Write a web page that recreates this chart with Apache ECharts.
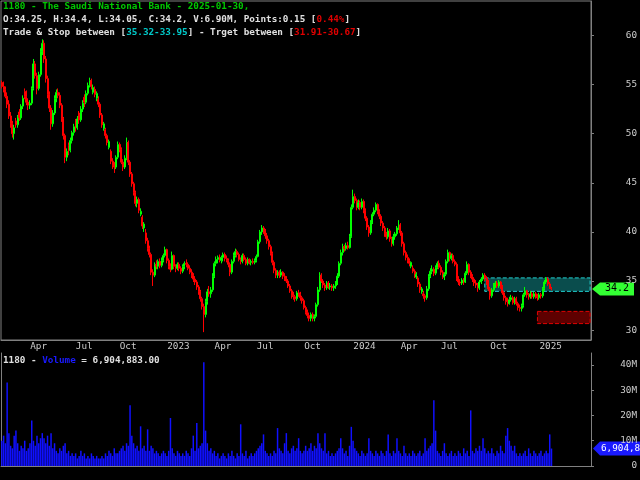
<!DOCTYPE html>
<html>
<head>
<meta charset="utf-8">
<title>1180 - The Saudi National Bank</title>
<script src="https://cdn.jsdelivr.net/npm/echarts@6/dist/echarts.min.js"></script>
<style>
html, body { margin: 0; padding: 0; background: #000; }
#main { width: 640px; height: 480px; }
</style>
</head>
<body>
<div id="main"></div>
<script>
// months on the axis, one group of candles per month
var months = ['2022-02','2022-03','2022-04','2022-05','2022-06','2022-07','2022-08','2022-09','2022-10','2022-11','2022-12',
    '2023-01','2023-02','2023-03','2023-04','2023-05','2023-06','2023-07','2023-08','2023-09','2023-10','2023-11','2023-12',
    '2024-01','2024-02','2024-03','2024-04','2024-05','2024-06','2024-07','2024-08','2024-09','2024-10','2024-11','2024-12',
    '2025-01'];
// empty room on the right of the last candle
var futureMonths = ['2025-02', '2025-03'];
var futureCounts = [11, 11];

// [open, high, low, close]
var candles = [
    [[55.2,55.4,54.6,54.8],[54.8,55.3,54.2,54.5],[54.5,54.8,53.6,53.8],[53.8,54.2,52.6,53.0],[53.0,53.4,51.5,51.8],[51.8,52.2,50.6,51.0]],
    [[51.0,51.3,49.6,50.0],[50.0,50.9,49.4,50.6],[51.3,51.6,50.6,50.9],[50.9,51.9,50.6,51.7],[52.2,52.5,51.3,51.6],[51.6,53.0,51.4,52.8],[52.8,53.9,52.5,53.6],[54.3,54.6,53.5,53.8],[53.8,54.4,52.9,53.2]],
    [[53.2,53.6,52.4,52.9],[52.9,53.4,52.5,53.1],[53.1,54.8,52.9,54.6],[54.6,57.6,54.4,57.1],[57.1,57.4,55.6,55.9],[55.9,56.2,54.0,54.6],[54.6,56.3,54.4,56.0],[56.0,58.7,55.8,58.4],[58.4,59.6,58.0,59.2]],
    [[59.2,59.5,57.2,57.6],[57.6,57.9,55.2,55.6],[55.6,55.9,53.6,54.0],[54.0,54.3,52.2,52.6],[52.6,52.9,50.4,51.0],[51.0,52.4,50.7,52.1],[52.1,53.9,51.9,53.6],[53.6,54.5,53.2,54.2]],
    [[54.2,54.6,53.6,53.9],[53.9,54.2,52.6,52.9],[52.9,53.1,51.2,51.5],[51.5,51.7,49.4,49.8],[49.8,50.0,47.0,47.6],[47.6,48.5,47.2,48.2],[48.8,49.1,47.8,48.3],[48.3,49.6,48.1,49.3],[49.3,50.3,49.0,50.1]],
    [[50.1,51.0,49.8,50.7],[51.3,51.5,50.2,50.6],[50.6,51.8,50.4,51.5],[52.1,52.3,51.0,51.4],[51.4,52.8,51.2,52.5],[52.5,53.4,52.2,53.1],[53.7,54.0,52.7,53.2]],
    [[53.2,54.4,53.0,54.1],[54.1,55.2,53.9,54.9],[54.9,55.7,54.7,55.4],[55.4,55.6,54.5,54.8],[54.2,55.0,54.0,54.7],[54.5,54.8,53.7,54.0],[53.6,54.3,53.3,54.1],[53.5,53.8,52.7,53.0],[53.0,53.2,51.6,51.9]],
    [[51.9,52.1,50.6,50.9],[50.5,51.2,50.3,51.0],[50.4,50.6,49.5,49.8],[49.8,50.0,48.8,49.1],[48.6,49.4,48.4,49.2],[48.2,48.4,46.9,47.2],[47.2,47.5,46.4,46.8],[46.8,47.1,46.0,46.6],[46.6,47.8,46.4,47.6]],
    [[47.6,49.2,47.4,48.9],[48.9,49.1,48.1,48.4],[48.4,48.6,46.9,47.1],[47.1,47.4,46.2,46.6],[46.6,47.8,46.4,47.5],[47.5,49.6,47.3,49.1],[49.1,49.3,46.8,47.1],[47.1,47.3,45.6,45.9],[45.9,46.1,44.6,44.9]],
    [[44.9,45.1,43.7,44.0],[44.0,44.2,42.6,42.9],[42.9,43.6,42.5,43.3],[43.3,43.5,41.9,42.2],[41.8,42.4,41.6,42.1],[41.5,41.7,40.3,40.6],[40.4,41.0,40.0,40.8],[39.9,40.3,38.8,39.1],[39.1,39.4,38.0,38.3]],
    [[38.3,38.6,37.4,37.7],[37.7,37.9,35.6,35.9],[35.9,36.2,34.5,35.6],[35.6,36.9,35.4,36.7],[36.7,37.1,36.2,36.5],[36.5,37.2,36.2,37.0],[37.0,37.3,36.3,36.6],[36.6,37.4,36.4,37.1],[37.1,37.8,36.9,37.6]],
    [[37.6,38.5,37.4,38.2],[38.2,38.3,36.8,37.1],[37.1,37.3,36.2,36.5],[36.5,36.8,35.9,36.2],[36.2,38.0,36.1,37.6],[37.6,37.7,36.2,36.5],[36.5,36.7,35.9,36.3],[36.3,36.9,36.1,36.7],[36.7,36.9,36.0,36.3]],
    [[36.3,36.5,35.7,36.0],[36.0,36.7,35.8,36.5],[36.5,37.0,36.2,36.8],[36.8,37.2,36.4,36.7],[36.7,36.9,36.1,36.3],[36.3,36.6,35.7,35.9],[35.9,36.2,35.3,35.6],[35.6,35.8,34.9,35.2]],
    [[35.2,35.5,34.6,34.9],[34.9,35.1,34.1,34.4],[34.4,34.6,33.6,33.9],[33.9,34.1,32.9,33.2],[33.2,33.4,32.1,32.4],[32.4,32.7,29.8,31.6],[31.6,33.2,31.3,32.9],[32.9,34.2,32.6,33.9],[33.9,34.5,33.4,33.7],[33.7,34.4,33.3,34.1]],
    [[34.1,35.8,33.9,35.5],[35.5,37.0,35.3,36.8],[36.8,37.5,36.5,37.2],[37.2,37.6,36.8,37.4],[37.4,37.7,36.9,37.1],[37.1,37.6,36.8,37.4],[37.4,37.9,37.0,37.7]],
    [[37.7,37.9,37.0,37.3],[37.3,37.6,36.9,37.1],[37.1,37.3,36.4,36.7],[36.7,36.9,35.5,35.9],[35.9,37.2,35.7,37.0],[37.0,37.9,36.8,37.6],[37.6,38.3,37.4,38.0],[38.0,38.2,37.4,37.7],[37.7,37.9,37.0,37.2]],
    [[37.2,37.4,36.7,37.0],[37.0,37.8,36.8,37.6],[37.6,37.8,37.0,37.2],[37.2,37.4,36.6,36.8],[36.8,37.4,36.6,37.2],[37.2,37.3,36.7,36.9],[36.9,37.2,36.6,37.0],[37.0,37.3,36.7,36.9]],
    [[36.9,37.3,36.7,37.1],[37.1,37.7,36.9,37.5],[37.5,39.2,37.4,39.0],[39.0,40.2,38.8,40.0],[40.0,40.7,39.7,40.4],[40.4,40.6,39.8,40.1],[40.1,40.3,39.3,39.6],[39.6,39.9,38.8,39.1],[39.1,39.3,38.2,38.5]],
    [[38.5,38.7,37.6,37.8],[37.8,38.0,36.6,36.9],[36.9,37.1,35.8,36.1],[36.1,36.3,35.3,35.6],[35.6,36.1,35.3,35.9],[35.9,36.1,35.3,35.6],[35.6,36.2,35.4,35.9],[35.9,36.0,35.2,35.5],[35.5,35.8,35.0,35.3]],
    [[35.3,35.5,34.8,35.0],[35.0,35.2,34.3,34.5],[34.5,34.7,33.8,34.0],[34.0,34.2,33.2,33.5],[33.5,33.9,33.1,33.4],[33.4,33.6,32.9,33.2],[33.2,34.0,33.0,33.8],[33.8,34.1,33.4,33.6],[33.6,33.9,33.0,33.3]],
    [[33.3,33.5,32.7,33.0],[33.0,33.2,32.1,32.3],[32.3,32.5,31.6,31.8],[31.8,32.1,31.2,31.5],[31.5,31.8,30.9,31.2],[31.2,31.8,30.9,31.6],[31.6,31.8,30.9,31.2],[31.2,31.6,30.9,31.4],[31.4,32.8,31.2,32.6]],
    [[32.6,34.4,32.4,34.1],[34.1,35.9,33.9,35.6],[35.6,35.8,34.8,35.0],[35.0,35.2,34.3,34.6],[34.6,34.8,34.0,34.3],[34.3,35.0,34.1,34.8],[34.8,35.0,34.2,34.4],[34.4,34.8,34.1,34.5],[34.5,34.7,34.0,34.3]],
    [[34.3,34.7,34.0,34.5],[34.5,35.0,34.2,34.8],[34.8,35.8,34.6,35.5],[35.5,37.0,35.3,36.8],[36.8,38.2,36.6,37.9],[37.9,38.8,37.6,38.5],[38.5,38.7,38.0,38.3],[38.3,38.9,38.1,38.6],[38.6,39.0,38.2,38.4],[38.4,39.8,38.3,39.5]],
    [[39.5,42.8,39.4,42.5],[42.5,44.3,42.3,43.6],[43.6,43.9,42.9,43.2],[43.2,43.4,42.2,42.5],[42.5,43.3,42.3,43.0],[43.0,43.2,42.2,42.5],[42.5,43.4,42.3,43.1],[43.1,43.3,41.9,42.2],[42.2,42.4,41.1,41.4]],
    [[41.4,41.6,40.2,40.5],[40.5,40.7,39.5,39.9],[39.9,41.2,39.7,41.0],[41.0,42.0,40.8,41.8],[41.8,42.5,41.6,42.2],[42.2,43.0,42.0,42.8],[42.8,42.9,41.8,42.1],[42.1,42.3,41.3,41.6],[41.6,41.8,40.6,40.9]],
    [[40.9,41.1,40.1,40.4],[40.4,40.6,39.5,39.8],[39.8,40.0,39.2,39.5],[39.5,40.4,39.3,40.1],[40.1,40.3,39.0,39.3],[39.3,39.5,38.5,38.8],[38.8,39.8,38.6,39.5],[39.5,40.0,39.2,39.8],[39.8,40.6,39.6,40.4]],
    [[40.4,41.2,40.2,40.7],[40.7,40.9,39.6,39.9],[39.9,40.1,38.5,38.8],[38.8,39.0,37.6,37.9],[37.9,38.1,37.1,37.4],[37.4,37.7,36.8,37.1]],
    [[37.1,37.3,36.5,36.8],[36.5,37.0,36.3,36.9],[36.3,36.6,35.8,36.0],[36.0,36.2,35.3,35.6],[35.4,35.9,35.2,35.7],[35.3,35.5,34.4,34.7],[34.7,34.9,33.8,34.1],[33.9,34.4,33.7,34.2],[33.7,34.0,33.2,33.5]],
    [[33.5,33.7,32.9,33.3],[33.3,34.5,33.1,34.2],[34.2,35.7,34.0,35.5],[35.5,36.3,35.3,36.0],[36.0,36.6,35.7,36.2],[36.2,36.4,35.5,35.8],[35.8,36.6,35.6,36.4],[36.4,37.0,36.2,36.8]],
    [[36.8,37.1,36.2,36.4],[36.4,36.6,35.6,35.9],[35.9,36.1,35.2,35.4],[35.4,35.9,35.1,35.7],[35.7,37.2,35.5,37.0],[37.0,38.2,36.8,37.9],[37.9,38.0,37.0,37.3],[37.3,37.8,37.1,37.6],[37.6,37.8,36.8,37.0]],
    [[37.0,37.2,36.5,36.7],[36.7,36.9,35.0,35.3],[35.3,35.5,34.6,34.9],[34.9,35.2,34.5,34.8],[34.8,35.3,34.6,35.1],[35.1,35.3,34.6,34.9],[34.9,36.0,34.8,35.8],[35.8,37.0,35.6,36.7],[36.7,36.8,35.6,35.9],[35.9,36.1,35.3,35.5]],
    [[35.5,35.7,34.9,35.2],[35.2,35.4,34.5,34.8],[34.8,35.1,34.3,34.6],[34.6,34.8,33.9,34.3],[34.3,35.1,34.1,34.9],[34.9,35.4,34.7,35.2],[35.2,35.8,35.0,35.6],[35.6,35.8,35.0,35.3],[35.3,35.5,34.6,34.9]],
    [[34.9,35.1,34.0,34.2],[34.2,34.4,33.1,33.5],[33.5,34.3,33.3,34.1],[34.1,34.8,33.9,34.6],[34.6,35.0,34.3,34.8],[34.8,35.0,34.3,34.5],[34.5,35.1,34.3,34.9],[34.9,35.0,34.2,34.4],[34.4,34.6,33.6,33.8],[33.8,34.0,33.0,33.3]],
    [[33.3,33.5,32.6,32.9],[32.9,33.3,32.4,32.7],[32.7,33.4,32.6,33.1],[33.1,33.6,32.9,33.3],[33.3,33.5,32.6,32.8],[32.8,33.4,32.6,33.2],[33.2,33.4,32.5,32.7],[32.7,32.9,32.0,32.3],[32.3,32.6,31.9,32.2]],
    [[32.2,32.7,31.9,32.5],[32.5,33.8,32.3,33.6],[33.6,34.4,33.4,34.0],[34.0,34.1,33.3,33.6],[33.6,33.8,33.1,33.4],[33.4,34.0,33.2,33.7],[33.7,33.9,33.2,33.4],[33.4,33.9,33.2,33.7],[33.7,33.9,33.2,33.4]],
    [[33.4,33.7,33.0,33.3],[33.3,33.8,33.1,33.6],[33.6,33.8,33.2,33.5],[33.5,34.4,33.3,34.2],[34.2,35.1,34.0,34.9],[34.9,35.4,34.7,35.2],[35.2,35.4,34.5,34.7],[34.7,34.9,34.2,34.3],[34.25,34.4,34.05,34.2]]
];

// volume in millions, same month groups as candles
var volumes = [
    [10,12,9,33,13,8],
    [7,12,14,9,6,8,7,10,6],
    [7,9,18,10,8,12,9,11,13],
    [11,9,12,8,13,7,9,6],
    [5,7,6,8,9,5,6,4,5],
    [4,5,3,4,6,4,5],
    [3,4,3,5,4,3,4,3,3],
    [4,3,5,4,6,5,4,7,5],
    [5,6,7,8,6,9,8,24,12],
    [9,7,8,6,15.7,7,8,6,14.5],
    [6,8,7,5,6,5,4,5,6],
    [5,4,6,19,7,5,4,6,5],
    [4,5,4,6,5,4,7,12],
    [6,17,7,8,9,41,14,9,6,7],
    [5,6,4,5,3,4,5],
    [4,3,5,4,6,4,3,5,4],
    [16.5,5,4,6,3,4,5,4],
    [5,6,7,8,9,12.5,6,5,4],
    [5,4,6,5,15,7,6,5,9],
    [13,6,5,7,8,6,7,11,6],
    [5,6,8,6,7,9,6,8,7],
    [13,9,7,6,13,5,6,4,5],
    [4,5,6,7,11,7,5,6,4,8],
    [15.5,10,7,6,5,4,6,5,4],
    [5,11,6,5,4,6,5,4,6],
    [5,4,6,12.5,5,4,6,5,11],
    [6,5,4,8,5,4],
    [5,4,6,5,4,5,6,4,5],
    [11,6,7,8,9,26,14,6],
    [5,4,6,9,5,4,5,6,4],
    [5,4,6,5,4,7,5,6,4,22],
    [6,5,7,6,8,6,11,7,5],
    [6,5,7,5,4,6,5,8,6,5],
    [12,15,10,8,6,8,5,4,5],
    [4,5,6,4,7,5,4,6,5],
    [4,5,6,4,5,6,5,12.5,6.904883]
];

var monthNames = {'04': 'Apr', '07': 'Jul', '10': 'Oct'};
var tradeZone = [33.95, 35.32];
var targetZone = [30.67, 31.91];
var tradeZoneStart = '2024-09#7';
var targetZoneStart = '2025-01#0';
var lastClose = 34.2;
var lastVolume = 6904883;

var FONT = 'DejaVu Sans Mono';

// build the category axis and the series data
var cats = [];
var kData = [];
var volData = [];
for (var m = 0; m < months.length; m++) {
    for (var k = 0; k < candles[m].length; k++) {
        var c = candles[m][k];
        cats.push(months[m] + '#' + k);
        kData.push([c[0], c[3], c[2], c[1]]); // echarts wants open, close, low, high
        volData.push(volumes[m][k]);
    }
}
for (var f = 0; f < futureMonths.length; f++) {
    for (var j = 0; j < futureCounts[f]; j++) cats.push(futureMonths[f] + '#' + j);
}

function isQuarterStart(index, value) {
    var parts = value.split('#');
    var mm = parts[0].slice(5);
    return parts[1] === '0' && (mm === '01' || mm === '04' || mm === '07' || mm === '10');
}
function quarterLabel(value) {
    var ym = value.split('#')[0];
    var mm = ym.slice(5);
    return mm === '01' ? ym.slice(0, 4) : monthNames[mm];
}

var grey = '#808080';
var labelColor = '#cccccc';

var myChart = echarts.init(document.getElementById('main'));

var option = {
    backgroundColor: '#000',
    animation: false,
    title: [{
        left: 3, top: 0, padding: 0,
        text: '{g|1180 - The Saudi National Bank - 2025-01-30,}\n' +
              '{w|O:34.25, H:34.4, L:34.05, C:34.2, V:6.90M, Points:0.15 [}{r|0.44%}{w|]}\n' +
              '{w|Trade & Stop between [}{c|35.32-33.95}{w|] - Trget between [}{r|31.91-30.67}{w|]}',
        textStyle: {
            rich: {
                g: {color: '#00c800', fontFamily: FONT, fontSize: 9.3, lineHeight: 13},
                w: {color: '#e0e0e0', fontFamily: FONT, fontSize: 9.3, lineHeight: 13},
                r: {color: '#e00000', fontFamily: FONT, fontSize: 9.3, lineHeight: 13},
                c: {color: '#00c8c8', fontFamily: FONT, fontSize: 9.3, lineHeight: 13}
            }
        }
    }, {
        left: 3, top: 354, padding: 0,
        text: '{w|1180 - }{b|Volume}{w| = 6,904,883.00}',
        textStyle: {
            rich: {
                w: {color: '#e0e0e0', fontFamily: FONT, fontSize: 9.3, lineHeight: 13},
                b: {color: '#1a1aff', fontFamily: FONT, fontSize: 9.3, lineHeight: 13}
            }
        }
    }],
    grid: [
        {left: 1, right: 49, top: 1, height: 339, show: true, borderColor: grey, borderWidth: 1, outerBoundsMode: 'none'},
        {left: 1, right: 49, top: 353, bottom: 14, outerBoundsMode: 'none'}
    ],
    xAxis: [{
        type: 'category',
        gridIndex: 0,
        data: cats,
        axisLine: {lineStyle: {color: grey}},
        axisTick: {interval: isQuarterStart, length: 5, lineStyle: {color: grey}},
        axisLabel: {
            interval: isQuarterStart,
            formatter: quarterLabel,
            color: labelColor,
            fontFamily: FONT,
            fontSize: 9.3,
            align: 'left',
            margin: 2,
            padding: [0, 0, 0, 2]
        },
        splitLine: {show: false}
    }, {
        type: 'category',
        gridIndex: 1,
        position: 'top',
        data: cats,
        axisLine: {lineStyle: {color: grey}},
        axisTick: {show: false},
        axisLabel: {show: false},
        splitLine: {show: false}
    }],
    yAxis: [{
        type: 'value',
        gridIndex: 0,
        position: 'right',
        min: 29,
        max: 63.5,
        splitNumber: 7,
        axisLine: {show: true, lineStyle: {color: grey}},
        axisTick: {show: true, length: 3, lineStyle: {color: grey}},
        axisLabel: {
            color: labelColor, fontFamily: FONT, fontSize: 9.3,
            align: 'right', margin: 46,
            showMinLabel: false, showMaxLabel: false
        },
        splitLine: {show: false}
    }, {
        type: 'value',
        gridIndex: 1,
        position: 'right',
        min: 0,
        max: 44.7,
        interval: 10,
        axisLine: {show: true, lineStyle: {color: grey}},
        axisTick: {show: true, length: 3, lineStyle: {color: grey}},
        axisLabel: {
            color: labelColor, fontFamily: FONT, fontSize: 9.3,
            align: 'right', margin: 46,
            showMaxLabel: false,
            formatter: function (v) { return v === 0 ? '0' : v + 'M'; }
        },
        splitLine: {show: false}
    }, {
        type: 'value',
        gridIndex: 1,
        position: 'left',
        min: 0,
        max: 44.7,
        axisLine: {show: true, lineStyle: {color: grey}},
        axisTick: {show: false},
        axisLabel: {show: false},
        splitLine: {show: false}
    }],
    series: [{
        name: '1180',
        type: 'candlestick',
        xAxisIndex: 0,
        yAxisIndex: 0,
        data: kData,
        barWidth: 1.5,  // above 1.3 so the bodies are drawn as boxes
        itemStyle: {
            color: '#000',
            color0: '#ff0000',
            borderColor: '#00ff00',
            borderColor0: '#ff0000',
            borderWidth: 1
        },
        markArea: {
            silent: true,
            data: [
                [{xAxis: tradeZoneStart, yAxis: tradeZone[1],
                  itemStyle: {color: '#0a4d4d', borderColor: '#20d0d0', borderWidth: 1, borderType: 'dashed'}},
                 {xAxis: cats[cats.length - 1], yAxis: tradeZone[0]}],
                [{xAxis: targetZoneStart, yAxis: targetZone[1],
                  itemStyle: {color: '#5e0000', borderColor: '#e00000', borderWidth: 1, borderType: 'dashed'}},
                 {xAxis: cats[cats.length - 1], yAxis: targetZone[0]}]
            ]
        }
    }, {
        name: 'Volume',
        type: 'bar',
        xAxisIndex: 1,
        yAxisIndex: 1,
        data: volData,
        barCategoryGap: '15%',
        itemStyle: {color: '#1010ff'}
    }]
};

myChart.setOption(option);

// price and volume tags on the right axis
var yPrice = myChart.convertToPixel({yAxisIndex: 0}, lastClose);
var yVol = myChart.convertToPixel({yAxisIndex: 1}, lastVolume / 1e6);
myChart.setOption({
    graphic: [{
        type: 'polygon',
        shape: {points: [[592, yPrice], [600, yPrice - 6.5], [634, yPrice - 6.5], [634, yPrice + 6.5], [600, yPrice + 6.5]]},
        style: {fill: '#33ff33'}
    }, {
        type: 'text',
        x: 617, y: yPrice,
        style: {text: String(lastClose), fill: '#000', font: '10px "DejaVu Sans Mono"', align: 'center', verticalAlign: 'middle'}
    }, {
        type: 'polygon',
        shape: {points: [[593, yVol], [600, yVol - 7], [640, yVol - 7], [640, yVol + 7], [600, yVol + 7]]},
        style: {fill: '#1a1aff'}
    }, {
        type: 'text',
        x: 601, y: yVol,
        style: {text: lastVolume.toLocaleString('en-US'), fill: '#fff', font: '9.3px "DejaVu Sans Mono"', align: 'left', verticalAlign: 'middle'}
    }]
});
</script>
</body>
</html>
